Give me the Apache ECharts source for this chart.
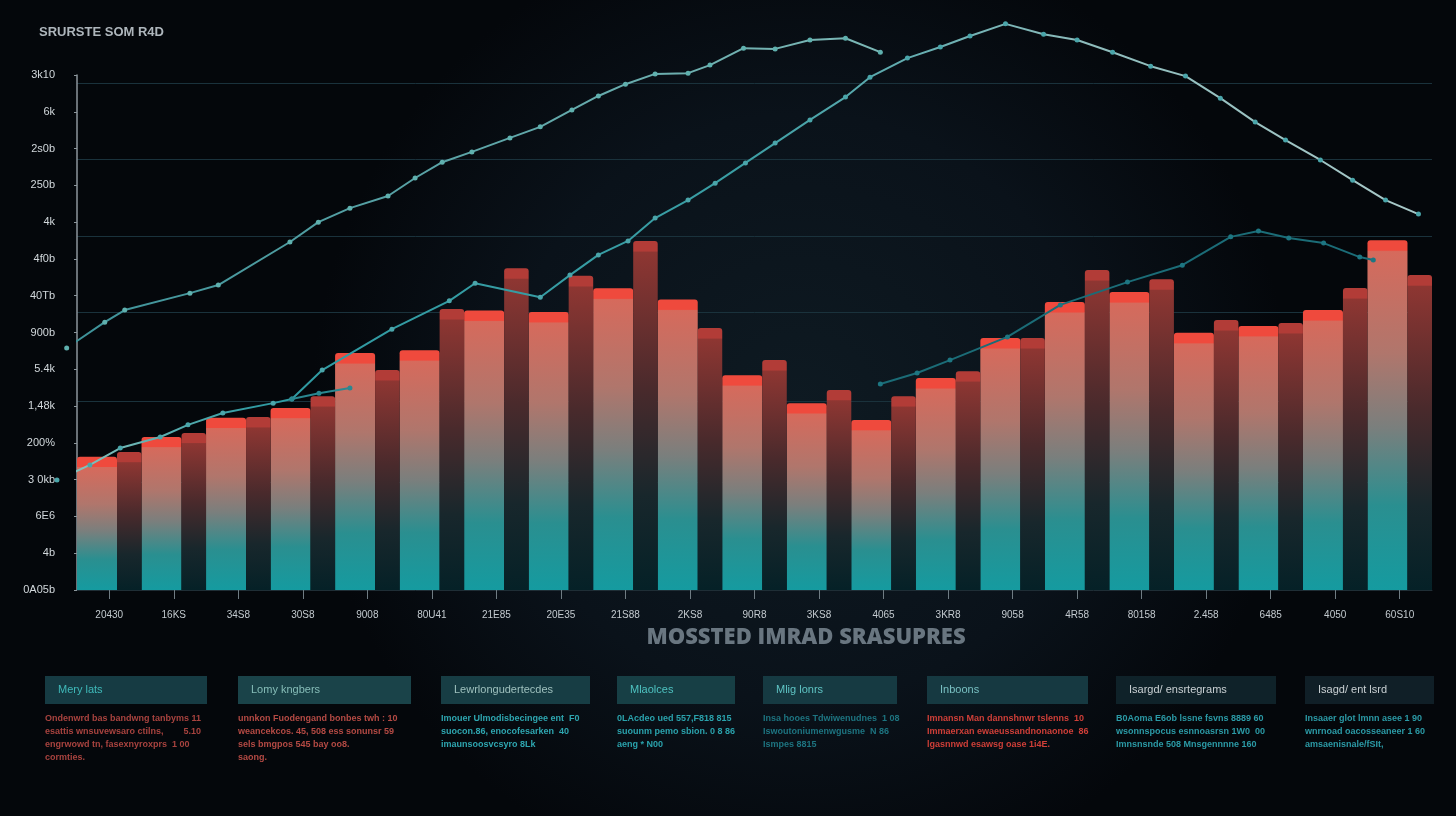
<!DOCTYPE html>
<html>
<head>
<meta charset="utf-8">
<title>SRURSTE SOM R4D</title>
<script src="https://cdn.jsdelivr.net/npm/echarts@6/dist/echarts.min.js"></script>
<style>
  html, body { margin: 0; padding: 0; background: #05080d; }
  #chart { width: 1456px; height: 816px; }
</style>
</head>
<body>
<div id="chart"></div>
<script>
// ---- data ----
const categories = ['20430', '16KS', '34S8', '30S8', '9008', '80U41', '21E85', '20E35', '21S88', '2KS8', '90R8',
  '3KS8', '4065', '3KR8', '9058', '4R58', '80158', '2.458', '6485', '4050', '60S10']

// tick labels, bottom to top
const yLabels = ['0A05b', '4b', '6E6', '3 0kb', '200%', '1,48k', '5.4k', '900b', '40Tb', '4f0b', '4k', '250b',
  '2s0b', '6k', '3k10']

const lightValues = [3.62, 4.16, 4.68, 4.95, 6.44, 6.52, 7.6, 7.56, 8.2, 7.9, 5.84, 5.08, 4.62, 5.76, 6.85, 7.83,
  8.1, 6.99, 7.18, 7.61, 9.51]
const darkValues = [3.75, 4.27, 4.7, 5.27, 5.98, 7.64, 8.75, 8.54, 9.49, 7.12, 6.25, 5.44, 5.27, 5.95, 6.85, 8.7,
  8.45, 7.34, 7.26, 8.21, 8.56]

// lines: [position along the categories, value]
const lineA = [[-0.16, 6.58], [0.43, 7.28], [0.74, 7.61], [1.75, 8.07], [2.19, 8.29], [3.3, 9.46], [3.74, 10.0],
  [4.23, 10.38], [4.82, 10.71], [5.24, 11.2], [5.66, 11.63], [6.12, 11.91], [6.71, 12.29], [7.18, 12.59],
  [7.67, 13.05], [8.08, 13.43], [8.5, 13.75], [8.96, 14.03], [9.47, 14.05], [9.81, 14.27], [10.33, 14.73],
  [10.82, 14.71], [11.36, 14.95], [11.91, 15.0], [12.45, 14.62]]
const lineB = [[-0.31, 2.99], [0.2, 3.4], [0.67, 3.86], [1.29, 4.16], [1.72, 4.49], [2.26, 4.81], [3.04, 5.08],
  [3.33, 5.19], [3.8, 5.98], [4.88, 7.09], [5.77, 7.86], [6.17, 8.34], [7.18, 7.96], [7.64, 8.56], [8.08, 9.11],
  [8.54, 9.49], [8.96, 10.11], [9.47, 10.6], [9.89, 11.06], [10.36, 11.61], [10.82, 12.15], [11.36, 12.78],
  [11.91, 13.4], [12.29, 13.94], [12.87, 14.46], [13.38, 14.76], [13.84, 15.06], [14.39, 15.39], [14.98, 15.11],
  [15.5, 14.95], [16.05, 14.62], [16.64, 14.24], [17.18, 13.97], [17.72, 13.37], [18.26, 12.72], [18.73, 12.23],
  [19.27, 11.69], [19.77, 11.14], [20.28, 10.6], [20.79, 10.22]]
const lineCLeft = [[3.33, 5.19], [3.75, 5.35], [4.23, 5.49]]
const lineCRight = [[12.45, 5.6], [13.02, 5.9], [13.53, 6.25], [14.42, 6.88], [15.24, 7.75], [16.28, 8.37],
  [17.13, 8.83], [17.88, 9.6], [18.31, 9.76], [18.78, 9.57], [19.32, 9.43], [19.88, 9.05], [20.09, 8.97]]

const gridValues = [13.78, 11.72, 9.62, 7.56, 5.14, 2.94]

const cardTitles = ['Mery lats', 'Lomy kngbers', 'Lewrlongudertecdes', 'Mlaolces', 'Mlig lonrs', 'Inboons',
  'Isargd/ ensrtegrams', 'Isagd/ ent lsrd']
const cardTexts = [
  'Ondenwrd bas bandwng tanbyms 11\nesattis wnsuvewsaro ctilns,        5.10\nengrwowd tn, fasexnyroxprs  1 00\ncormties.',
  'unnkon Fuodengand bonbes twh : 10\nweancekcos. 45, 508 ess sonunsr 59\nsels bmgpos 545 bay oo8.\nsaong.',
  'Imouer Ulmodisbecingee ent  F0\nsuocon.86, enocofesarken  40\nimaunsoosvcsyro 8Lk',
  '0LAcdeo ued 557,F818 815\nsuounm pemo sbion. 0 8 86\naeng * N00',
  'Insa hooes Tdwiwenudnes  1 08\nIswoutoniumenwgusme  N 86\nIsmpes 8815',
  'Imnansn Man dannshnwr tslenns  10\nImmaerxan ewaeussandnonaonoe  86\nlgasnnwd esawsg oase 1i4E.',
  'B0Aoma E6ob lssne fsvns 8889 60\nwsonnspocus esnnoasrsn 1W0  00\nImnsnsnde 508 Mnsgennnne 160',
  'Insaaer glot lmnn asee 1 90\nwnrnoad oacosseaneer 1 60\namsaenisnale/fSIt,'
]

// ---- layout / style ----
const cardBoxes = [[45, 162], [238, 173], [441, 149], [617, 118], [763, 134], [927, 161], [1116, 160], [1305, 129]]
const cardFill = ['#163b43', '#1a4349', '#173d44', '#173f45', '#163a42', '#163941', '#0f2229', '#101f27']
const cardHead = ['#3fb9b9', '#86bdb8', '#9ec0bd', '#4ec2c0', '#5fc4c4', '#79c0c2', '#c9d0d3', '#c9d0d3']
const cardBody = ['#a8433f', '#b44a44', '#2ea6b0', '#2aa2ac', '#1d7480', '#cf3f38', '#2b9aa6', '#2b9aa6']

const gridTop = 75
const gridBottom = 226
const pxPerUnit = (816 - gridTop - gridBottom) / 14
const font = 'Liberation Sans, Arial, sans-serif'

function barColor(cap, stops) {
  return (p) => {
    const h = p.value * pxPerUnit
    const f = Math.min(0.2, 10 / h)
    const list = [{ offset: 0, color: cap }, { offset: f, color: cap }]
    stops.forEach((s) => list.push({ offset: f + 0.004 + s[0] * (1 - f - 0.004), color: s[1] }))
    return new echarts.graphic.LinearGradient(0, 0, 0, 1, list)
  }
}

const chart = echarts.init(document.getElementById('chart'), null, { renderer: 'canvas' })

const graphics = [
  {
    type: 'text',
    x: 806,
    y: 627,
    style: {
      text: 'MOSSTED IMRAD SRASUPRES',
      fill: '#697680',
      font: '800 22px "Open Sans", sans-serif',
      textAlign: 'center',
    },
  },
]
cardBoxes.forEach((b, i) => {
  graphics.push({
    type: 'rect',
    shape: { x: b[0], y: 676, width: b[1], height: 28 },
    style: { fill: cardFill[i] },
  })
  graphics.push({
    type: 'text',
    x: b[0] + 13,
    y: 684,
    style: { text: cardTitles[i], fill: cardHead[i], font: '11px ' + font },
  })
  graphics.push({
    type: 'text',
    x: b[0],
    y: 712,
    style: { text: cardTexts[i], fill: cardBody[i], font: 'bold 9px ' + font, lineHeight: 13 },
  })
})

const option = {
  animation: false,
  backgroundColor: new echarts.graphic.RadialGradient(0.55, 0.5, 0.6, [
    { offset: 0, color: '#0e1a22' },
    { offset: 0.6, color: '#0a121a' },
    { offset: 1, color: '#04070b' },
  ]),
  title: {
    text: 'SRURSTE SOM R4D',
    left: 34,
    top: 21,
    textStyle: { color: '#aeb6bc', fontSize: 13, fontWeight: 'bold', fontFamily: font },
  },
  grid: { left: 77, right: 24, top: gridTop, bottom: gridBottom },
  xAxis: [
    {
      type: 'category',
      data: categories,
      axisLine: { show: true, lineStyle: { color: '#1f2e36' } },
      axisTick: { show: true, alignWithLabel: true, length: 9, lineStyle: { color: '#6f7c83' } },
      axisLabel: { color: '#c3cacf', fontSize: 10, margin: 20, fontFamily: font },
      splitLine: { show: false },
    },
    { type: 'value', min: 0, max: 21, show: false },
  ],
  yAxis: {
    type: 'value',
    min: 0,
    max: 14,
    interval: 1,
    offset: 20,
    axisLine: { show: true, lineStyle: { color: '#8c969c', width: 1.5 } },
    axisTick: { show: true, length: 3, lineStyle: { color: '#8c969c' } },
    axisLabel: {
      color: '#d2d8dc',
      fontSize: 11,
      margin: 2,
      fontFamily: font,
      formatter: (v) => yLabels[v] || '',
    },
    splitLine: { show: false },
  },
  series: [
    {
      name: 'grid',
      type: 'line',
      data: [],
      z: 0,
      markLine: {
        z: 0,
        silent: true,
        symbol: 'none',
        label: { show: false },
        lineStyle: { color: '#1a323c', type: 'solid', width: 1 },
        data: gridValues.map((v) => ({ yAxis: v })),
      },
    },
    {
      name: 'light',
      type: 'bar',
      data: lightValues,
      barWidth: '62%',
      barGap: '0%',
      z: 2,
      itemStyle: {
        borderRadius: [3, 3, 0, 0],
        color: barColor('#ef4a3d', [
          [0, '#d66a5c'],
          [0.3, '#b0766c'],
          [0.52, '#7a7f7d'],
          [0.75, '#2a8f90'],
          [1, '#159ba0'],
        ]),
      },
    },
    {
      name: 'dark',
      type: 'bar',
      data: darkValues,
      barWidth: '38%',
      z: 2,
      itemStyle: {
        borderRadius: [3, 3, 0, 0],
        color: barColor('#b23c37', [
          [0, '#8e3632'],
          [0.4, '#4a2a2c'],
          [0.72, '#18272c'],
          [1, '#052127'],
        ]),
      },
    },
    {
      name: 'A',
      type: 'line',
      xAxisIndex: 1,
      data: lineA,
      clip: false,
      z: 3,
      symbol: 'circle',
      symbolSize: 5,
      lineStyle: {
        width: 2,
        color: new echarts.graphic.LinearGradient(0, 0, 1, 0, [
          { offset: 0, color: '#3d9299' },
          { offset: 1, color: '#7cb8b6' },
        ]),
      },
      itemStyle: { color: '#5fb0ae' },
    },
    {
      name: 'B',
      type: 'line',
      xAxisIndex: 1,
      data: lineB,
      clip: false,
      z: 3,
      symbol: 'circle',
      symbolSize: 5,
      lineStyle: {
        width: 2,
        color: new echarts.graphic.LinearGradient(0, 0, 1, 0, [
          { offset: 0, color: '#8fc6c0' },
          { offset: 0.15, color: '#2f9aa2' },
          { offset: 0.5, color: '#3a9ea4' },
          { offset: 0.75, color: '#8dbcbc' },
          { offset: 1, color: '#a9c9c9' },
        ]),
      },
      itemStyle: { color: '#4aa5aa' },
    },
    {
      name: 'C1',
      type: 'line',
      xAxisIndex: 1,
      data: lineCLeft,
      clip: false,
      z: 3,
      symbol: 'circle',
      symbolSize: 5,
      lineStyle: { width: 2, color: '#2a8790' },
      itemStyle: { color: '#2a8790' },
    },
    {
      name: 'C2',
      type: 'line',
      xAxisIndex: 1,
      data: lineCRight,
      clip: false,
      z: 3,
      symbol: 'circle',
      symbolSize: 5,
      lineStyle: { width: 2, color: '#1b6c77' },
      itemStyle: { color: '#1d7682' },
    },
  ],
  graphic: graphics,
}

chart.setOption(option)
</script>
</body>
</html>
